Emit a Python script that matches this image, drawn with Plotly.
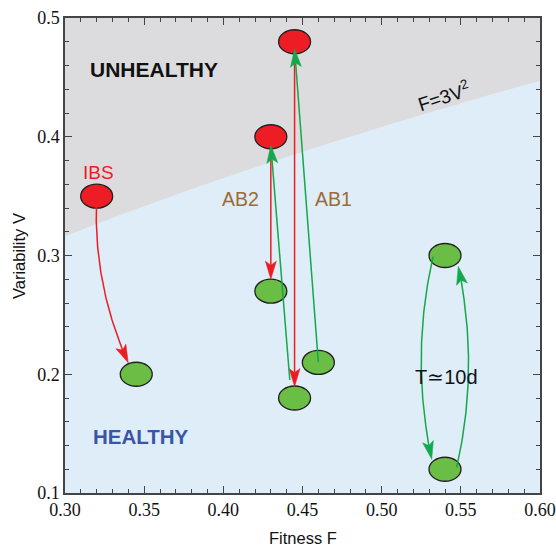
import numpy as np
import plotly.graph_objects as go

# ---------------- data ----------------
red_labels = ["IBS", "AB2", "AB1"]
red_F = [0.32, 0.43, 0.445]
red_V = [0.35, 0.40, 0.48]

green_F = [0.345, 0.43, 0.445, 0.46, 0.54, 0.54]
green_V = [0.20, 0.27, 0.18, 0.21, 0.30, 0.12]

x_tick_vals = [0.30, 0.35, 0.40, 0.45, 0.50, 0.55, 0.60]
x_tick_text = ["0.30", "0.35", "0.40", "0.45", "0.50", "0.55", "0.60"]
y_tick_vals = [0.1, 0.2, 0.3, 0.4, 0.5]
y_tick_text = ["0.1", "0.2", "0.3", "0.4", "0.5"]

# arrows: (colour key, from (set, idx), start offset in radii, to (set, idx), end offset in radii, bend)
arrows = [
    ("r", ("r", 0), (0.0, 0.0), ("g", 0), (-0.5, 0.95), 0.06),
    ("r", ("r", 1), (0.0, -0.9), ("g", 1), (0.0, 1.0), 0.0),
    ("r", ("r", 2), (0.0, -0.9), ("g", 2), (0.0, 0.95), 0.0),
    ("g", ("g", 3), (0.0, 0.0), ("r", 2), (0.0, -0.6), 0.0),
    ("g", ("g", 2), (-0.3, 1.5), ("r", 1), (0.0, -0.7), 0.0),
    ("g", ("g", 4), (-0.75, -0.1), ("g", 5), (-0.83, 0.83), 0.055),
    ("g", ("g", 5), (0.73, 0.15), ("g", 4), (0.83, -0.92), 0.055),
]

# ---------------- styling ----------------
W, H = 556, 549
ML, MR, MT, MB = 65, 16, 18, 56
XR = [0.30, 0.60]
YR = [0.1, 0.5]
PW = W - ML - MR
PH = H - MT - MB
RX = 0.0101  # ellipse half-width (data units)
RY = 0.0101

GRAY = "#dcdcde"
BLUE = "#deedf8"
RED_FILL = "#ee1d25"
GREEN_FILL = "#6abd45"
RED_LINE = "#ec1c24"
GREEN_LINE = "#12a84b"
OUTLINE = "#231f20"
SANS = "Liberation Sans, Arial, sans-serif"

def to_px(F, V):
    return np.array([(F - XR[0]) / (XR[1] - XR[0]) * PW,
                     (YR[1] - V) / (YR[1] - YR[0]) * PH])

def to_data(p):
    return (XR[0] + p[0] / PW * (XR[1] - XR[0]),
            YR[1] - p[1] / PH * (YR[1] - YR[0]))

pts = {"r": (red_F, red_V), "g": (green_F, green_V)}

fig = go.Figure()

# healthy region below boundary F = 3 V^2
Fb = np.linspace(XR[0], XR[1], 60)
Vb = np.sqrt(Fb / 3.0)
path = "M " + " L ".join(f"{f},{v}" for f, v in zip(Fb, Vb))
path += f" L {XR[1]},{YR[0]} L {XR[0]},{YR[0]} Z"
shapes = [dict(type="path", path=path, xref="x", yref="y",
               fillcolor=BLUE, line=dict(width=0), layer="below")]

# ellipses
for F, V in zip(red_F, red_V):
    shapes.append(dict(type="circle", xref="x", yref="y",
                       x0=F - RX, x1=F + RX, y0=V - RY, y1=V + RY,
                       fillcolor=RED_FILL, line=dict(color=OUTLINE, width=1.3),
                       layer="below"))
for F, V in zip(green_F, green_V):
    shapes.append(dict(type="circle", xref="x", yref="y",
                       x0=F - RX, x1=F + RX, y0=V - RY, y1=V + RY,
                       fillcolor=GREEN_FILL, line=dict(color=OUTLINE, width=1.3),
                       layer="below"))

# arrows
HL, HW, NOTCH = 18.0, 5.5, 4.0
for ck, (s_set, s_i), s_off, (e_set, e_i), e_off, bend in arrows:
    col = RED_LINE if ck == "r" else GREEN_LINE
    sF = pts[s_set][0][s_i] + s_off[0] * RX
    sV = pts[s_set][1][s_i] + s_off[1] * RY
    eF = pts[e_set][0][e_i] + e_off[0] * RX
    eV = pts[e_set][1][e_i] + e_off[1] * RY
    P0 = to_px(sF, sV)
    P2 = to_px(eF, eV)
    d = P2 - P0
    L = np.hypot(*d)
    perp = np.array([-d[1], d[0]]) / L
    P1 = (P0 + P2) / 2 + perp * bend * L * 2
    t = np.linspace(0, 1, 80)
    curve = ((1 - t)[:, None] ** 2) * P0 + (2 * (1 - t) * t)[:, None] * P1 + (t[:, None] ** 2) * P2
    tan = P2 - P1 if bend != 0 else d
    u = tan / np.hypot(*tan)
    pu = np.array([-u[1], u[0]])
    back = P2 - u * HL
    left = back + pu * HW
    right = back - pu * HW
    notch = P2 - u * (HL - NOTCH)
    dist = np.hypot(*(curve - P2).T)
    keep = curve[dist >= HL - NOTCH - 0.5]
    keep = np.vstack([keep, notch])
    xs, ys = zip(*[to_data(p) for p in keep])
    fig.add_trace(go.Scatter(x=xs, y=ys, mode="lines",
                             line=dict(color=col, width=1.5),
                             hoverinfo="skip", showlegend=False))
    head = [P2, left, notch, right, P2]
    hx, hy = zip(*[to_data(p) for p in head])
    fig.add_trace(go.Scatter(x=hx, y=hy, mode="lines", fill="toself",
                             fillcolor=col, line=dict(color=col, width=0.5),
                             hoverinfo="skip", showlegend=False))

# text labels
def px_ann(px, py, text, size, color, bold=False, angle=0):
    F, V = to_data((px - ML, py - MT))
    return dict(x=F, y=V, xref="x", yref="y", text=f"<b>{text}</b>" if bold else text,
                showarrow=False, textangle=angle,
                font=dict(family=SANS, size=size, color=color))

def paper_ann(px, py, text, size, angle=0):
    # paper coordinates refer to the plot area
    return dict(x=(px - ML) / PW, y=1 - (py - MT) / PH, xref="paper", yref="paper", text=text,
                showarrow=False, textangle=angle, xanchor="center", yanchor="middle",
                font=dict(family=SANS, size=size, color="#111111"))

annotations = [
    px_ann(154, 69, "UNHEALTHY", 21, "#111111", bold=True),
    px_ann(141, 436, "HEALTHY", 20.5, "#3a55a5", bold=True),
    px_ann(98.5, 172, "IBS", 19, "#ec1c24"),
    px_ann(240, 199, "AB2", 19.5, "#9d6a35"),
    px_ann(333, 199, "AB1", 19.5, "#9d6a35"),
    px_ann(443, 96, "F=3V<sup>2</sup>", 19, "#111111", angle=-18),
    px_ann(446, 377, "T≃10d", 20, "#111111"),
    paper_ann(303, 538, "Fitness F", 16.5),
    paper_ann(19, 256, "Variability V", 16.5, angle=-90),
]

axis_common = dict(
    showline=True, linecolor="#444444", linewidth=1.5, mirror="ticks",
    ticks="inside", ticklen=7, tickwidth=1.2, tickcolor="#444444",
    showgrid=False, zeroline=False, automargin=False,
    tickfont=dict(family="Liberation Serif, Times New Roman, serif", size=18, color="#111111"),
)

fig.update_layout(
    width=W, height=H,
    margin=dict(l=ML, r=MR, t=MT, b=MB),
    paper_bgcolor="white", plot_bgcolor=GRAY,
    shapes=shapes, annotations=annotations,
    xaxis=dict(range=XR, tickvals=x_tick_vals, ticktext=x_tick_text,
               minor=dict(dtick=0.01, tick0=0.30, ticks="inside", ticklen=4, tickcolor="#444444", showgrid=False),
               **axis_common),
    yaxis=dict(range=YR, tickvals=y_tick_vals, ticktext=y_tick_text,
               minor=dict(dtick=0.02, tick0=0.1, ticks="inside", ticklen=4, tickcolor="#444444", showgrid=False),
               **axis_common),
)

fig.write_html("out.html")
